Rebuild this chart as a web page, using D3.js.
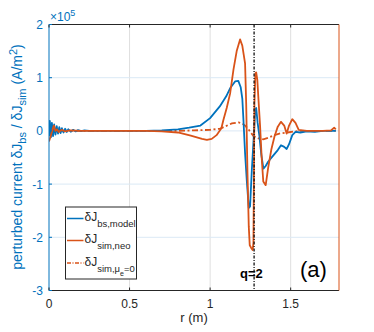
<!DOCTYPE html>
<html><head><meta charset="utf-8">
<script src="https://cdn.jsdelivr.net/npm/d3@7"></script>
<style>body{margin:0;background:#fff}svg{display:block;font-family:"Liberation Sans",Arial,sans-serif}</style>
</head><body><svg id="c" width="374" height="332"></svg>
<script>
// ---- data ----
const xTicks = [0, 0.5, 1, 1.5];
const xTickLabels = ["0", "0.5", "1", "1.5"];
const yTicks = [-3, -2, -1, 0, 1, 2];
const yTickLabels = ["-3", "-2", "-1", "0", "1", "2"];
const qLine = 1.273;

const rBlue = [0,0.005,0.012,0.018,0.025,0.032,0.04,0.048,0.056,0.064,0.072,0.08,0.09,0.1,0.11,0.12,0.135,0.15,0.165,0.18,0.2,0.22,0.25,0.3,0.4,0.5,0.6,0.7,0.8,0.87,0.94,1.0,1.06,1.1,1.124,1.155,1.175,1.19,1.2,1.207,1.217,1.228,1.24,1.248,1.259,1.273,1.28,1.286,1.295,1.306,1.318,1.331,1.345,1.36,1.39,1.42,1.44,1.46,1.475,1.49,1.51,1.53,1.56,1.6,1.65,1.7,1.78];
const yBlue = [-0.1,0.19,-0.12,0.15,-0.1,0.12,-0.07,0.09,-0.05,0.07,-0.04,0.05,-0.03,0.04,-0.02,0.03,-0.015,0.02,-0.01,0.015,-0.005,0.01,0,0,0,0,0,0.01,0.03,0.06,0.1,0.24,0.46,0.65,0.8,0.93,0.94,0.82,0.6,0.2,-0.42,-0.95,-1.45,-1.42,-0.73,0.0,0.4,0.43,0.15,-0.1,-0.45,-0.71,-0.66,-0.58,-0.47,-0.36,-0.27,-0.3,-0.34,-0.25,-0.08,-0.02,-0.03,-0.01,-0.02,0,0];

const rNeo = [0,0.015,0.03,0.04,0.05,0.06,0.08,0.1,0.13,0.2,0.4,0.6,0.7,0.8,0.88,0.95,0.98,1.01,1.04,1.07,1.082,1.103,1.124,1.145,1.165,1.186,1.2,1.217,1.224,1.232,1.24,1.246,1.255,1.264,1.269,1.275,1.281,1.286,1.293,1.3,1.31,1.32,1.33,1.345,1.36,1.38,1.4,1.42,1.44,1.46,1.475,1.49,1.51,1.53,1.55,1.6,1.7,1.75,1.77,1.78];
const yNeo = [-0.2,-0.05,0.1,0.0,0.03,-0.02,0.02,-0.01,0.01,0,0,0,-0.01,-0.03,-0.09,-0.15,-0.17,-0.15,-0.08,0.05,0.2,0.43,0.7,1.15,1.5,1.72,1.6,1.27,0.5,-0.8,-1.8,-2.15,-2.2,-2.24,-2.1,0.5,1.08,1.1,0.96,0.6,0.1,-0.5,-0.95,-1.02,-0.7,-0.35,-0.1,0.08,0.17,0.1,-0.05,0.1,0.22,0.15,0.02,0,0,0.01,0.06,0.03];

const rMu0 = [0,0.2,0.4,0.6,0.8,0.9,1.0,1.06,1.09,1.135,1.176,1.2,1.217,1.235,1.248,1.27,1.3,1.33,1.36,1.39,1.43,1.48,1.55,1.65,1.78];
const yMu0 = [0,0,0,0,0,0.01,0.02,0.04,0.08,0.14,0.16,0.14,0.1,0.04,-0.01,-0.1,-0.14,-0.16,-0.13,-0.09,-0.05,-0.03,0,0,0];

const legendLabels = [["bs,model"], ["sim,neo"], ["sim,μ", "e", "=0"]];

// ---- drawing ----
const blue = "#0072BD", orange = "#D95319", dark = "#262626";
const svg = d3.select("#c");
const L = 49, R = 339, T = 24.5, B = 290.5;
const x = d3.scaleLinear().domain([0, 1.8]).range([L, R]);
const y = d3.scaleLinear().domain([-3, 2]).range([B, T]);

// grid
svg.append("g").selectAll("line").data(xTicks.filter(d => d > 0)).join("line")
  .attr("x1", d => x(d)).attr("x2", d => x(d)).attr("y1", T).attr("y2", B)
  .attr("stroke", "#dfdfdf").attr("stroke-width", 1);
svg.append("g").selectAll("line").data(yTicks.filter(d => d > -3 && d < 2)).join("line")
  .attr("x1", L).attr("x2", R).attr("y1", d => y(d)).attr("y2", d => y(d))
  .attr("stroke", "#dbe9f5").attr("stroke-width", 1);

// clip
svg.append("clipPath").attr("id", "clip").append("rect").attr("x", L).attr("y", T).attr("width", R - L).attr("height", B - T);

const line = d3.line().x(d => x(d[0])).y(d => y(d[1]));
const g = svg.append("g").attr("clip-path", "url(#clip)");
g.append("path").datum(rMu0.map((r, i) => [r, yMu0[i]])).attr("d", line)
  .attr("fill", "none").attr("stroke", orange).attr("stroke-width", 1.8).attr("stroke-dasharray", "6,2.5,2,2.5");
g.append("path").datum(rBlue.map((r, i) => [r, yBlue[i]])).attr("d", line)
  .attr("fill", "none").attr("stroke", blue).attr("stroke-width", 1.8).attr("stroke-linejoin", "round");
g.append("path").datum(rNeo.map((r, i) => [r, yNeo[i]])).attr("d", line)
  .attr("fill", "none").attr("stroke", orange).attr("stroke-width", 1.8).attr("stroke-linejoin", "round");

// axes box
svg.append("line").attr("x1", L).attr("x2", R).attr("y1", T).attr("y2", T).attr("stroke", dark);
svg.append("line").attr("x1", L).attr("x2", R).attr("y1", B).attr("y2", B).attr("stroke", dark);
svg.append("line").attr("x1", L).attr("x2", L).attr("y1", T).attr("y2", B).attr("stroke", blue);
svg.append("line").attr("x1", R).attr("x2", R).attr("y1", T).attr("y2", B).attr("stroke", orange);

// x ticks
const xt = svg.append("g");
xt.selectAll(".tb").data(xTicks).join("line").attr("x1", d => x(d)).attr("x2", d => x(d)).attr("y1", B).attr("y2", B - 3).attr("stroke", dark);
xt.selectAll(".tt").data(xTicks).join("line").attr("x1", d => x(d)).attr("x2", d => x(d)).attr("y1", T).attr("y2", T + 3).attr("stroke", dark);
xt.selectAll("text").data(xTicks).join("text").attr("x", d => x(d)).attr("y", 308)
  .attr("text-anchor", "middle").attr("font-size", 12).attr("fill", dark).text((d, i) => xTickLabels[i]);

// y ticks
const yt = svg.append("g");
yt.selectAll("line").data(yTicks).join("line").attr("x1", L).attr("x2", L + 3).attr("y1", d => y(d)).attr("y2", d => y(d)).attr("stroke", blue);
yt.selectAll("text").data(yTicks).join("text").attr("x", 43).attr("y", d => y(d) + 4.5)
  .attr("text-anchor", "end").attr("font-size", 12).attr("fill", blue).text((d, i) => yTickLabels[i]);

// exponent
const ex = svg.append("text").attr("x", 50).attr("y", 21).attr("font-size", 12).attr("fill", blue);
ex.append("tspan").text("×10");
ex.append("tspan").attr("dy", -5).attr("font-size", 9).text("5");

// y label
const yl = svg.append("text").attr("transform", "translate(22,157) rotate(-90)").attr("text-anchor", "middle")
  .attr("font-size", 14).attr("fill", blue);
yl.append("tspan").text("perturbed current δJ");
yl.append("tspan").attr("dy", 4).attr("font-size", 11).text("bs");
yl.append("tspan").attr("dy", -4).text(" / δJ");
yl.append("tspan").attr("dy", 4).attr("font-size", 11).text("sim");
yl.append("tspan").attr("dy", -4).text(" (A/m");
yl.append("tspan").attr("dy", -5).attr("font-size", 11).text("2");
yl.append("tspan").attr("dy", 5).text(")");

// x label
svg.append("text").attr("x", 194).attr("y", 322).attr("text-anchor", "middle").attr("font-size", 13).attr("fill", dark).text("r (m)");

// annotations
svg.append("text").attr("x", 240).attr("y", 278).attr("font-size", 13).attr("font-weight", "bold").attr("fill", "#000").text("q=2");
svg.append("line").attr("x1", x(qLine)).attr("x2", x(qLine)).attr("y1", T).attr("y2", B)
  .attr("stroke", "#111").attr("stroke-width", 1.3).attr("stroke-dasharray", "3,1.5,1,1.5");
svg.append("text").attr("x", 300).attr("y", 277).attr("font-size", 22).attr("fill", "#000").text("(a)");

// legend
const lg = svg.append("g");
lg.append("rect").attr("x", 65.5).attr("y", 207).attr("width", 71).attr("height", 72)
  .attr("fill", "#fff").attr("stroke", dark).attr("stroke-width", 1);
const rowsY = [218.5, 240.5, 263];
const styles = [[blue, null], [orange, null], [orange, "4,1.5,1,1.5"]];
legendLabels.forEach((lab, i) => {
  const yy = rowsY[i];
  lg.append("line").attr("x1", 67).attr("x2", 83.5).attr("y1", yy).attr("y2", yy)
    .attr("stroke", styles[i][0]).attr("stroke-width", 1.5).attr("stroke-dasharray", styles[i][1]);
  const t = lg.append("text").attr("x", 84.5).attr("y", yy + 2.5).attr("font-size", 12).attr("fill", dark);
  t.append("tspan").text("δJ");
  t.append("tspan").attr("dy", 6).attr("font-size", 9.5).text(lab[0]);
  if (lab.length > 1) {
    t.append("tspan").attr("dy", 4).attr("font-size", 7).text(lab[1]);
    t.append("tspan").attr("dy", -4).attr("font-size", 9.5).text(lab[2]);
  }
});
</script></body></html>
